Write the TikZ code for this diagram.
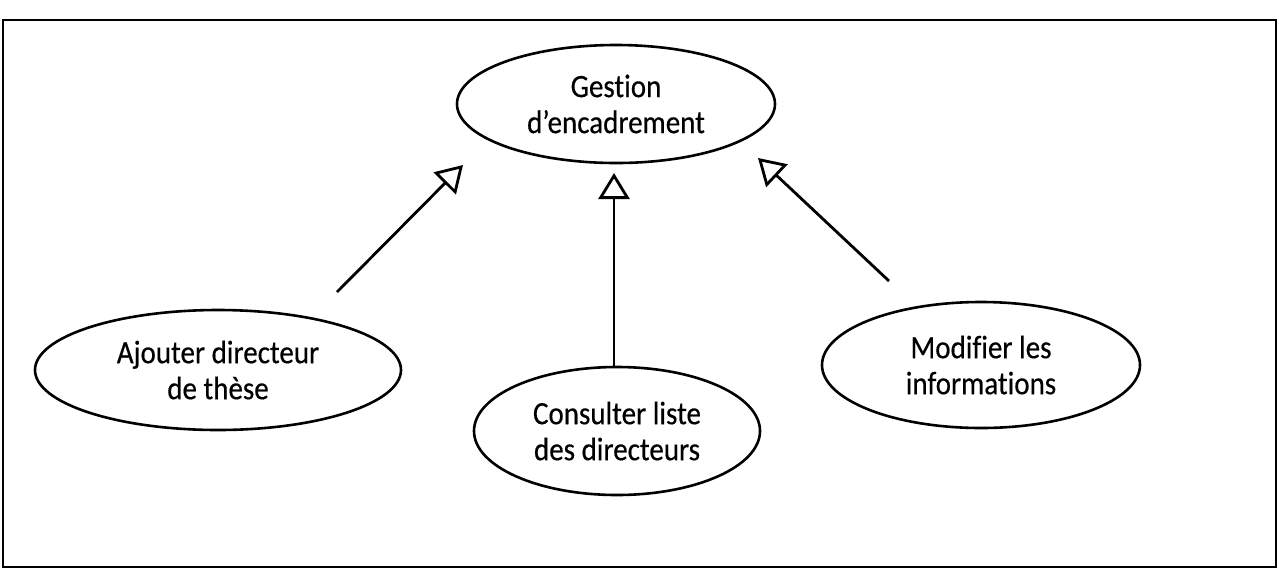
\documentclass[tikz,border=0pt]{standalone}
\usepackage{fontspec}
\setmainfont[Ligatures=NoCommon,FakeStretch=0.89,FakeBold=0.4]{Carlito}
\usetikzlibrary{shapes.geometric,arrows.meta}
\begin{document}
\begin{tikzpicture}[x=0.5pt,y=-0.5pt,
  usecase/.style={draw,ellipse,line width=1.3pt,inner sep=0pt,align=center,
    font=\fontsize{16.3}{18}\selectfont},
  gen/.style={line width=1.4pt,-{Triangle[open,length=13pt,width=15.5pt,line width=1.4pt]}}]
  % page frame
  \fill[white] (0,0) rectangle (1279,579);
  \draw[line width=1.1pt] (3,20) rectangle (1276,567);
  \useasboundingbox (0,0) rectangle (1279,579);

  % use cases
  \node[usecase,minimum width=159pt,minimum height=59pt] (gest) at (616,104) {Gestion\\d’encadrement};
  \node[usecase,minimum width=183pt,minimum height=60pt] (ajout) at (218,370) {Ajouter directeur\\de thèse};
  \node[usecase,minimum width=143pt,minimum height=64pt] (cons) at (617,431) {Consulter liste\\des directeurs};
  \node[usecase,minimum width=159pt,minimum height=63pt] (modif) at (981,365) {Modifier les\\informations};

  % generalisation arrows
  \coordinate (aS) at (337,292);
  \coordinate (aT) at (463,165);
  \coordinate (cT) at (614,173);
  \coordinate (mS) at (889,281);
  \coordinate (mT) at (758,158);
  \draw[gen] (aS) -- (aT);
  \draw[gen] (cons.north -| cT) -- (cT);
  \draw[gen] (mS) -- (mT);
\end{tikzpicture}
\end{document}
